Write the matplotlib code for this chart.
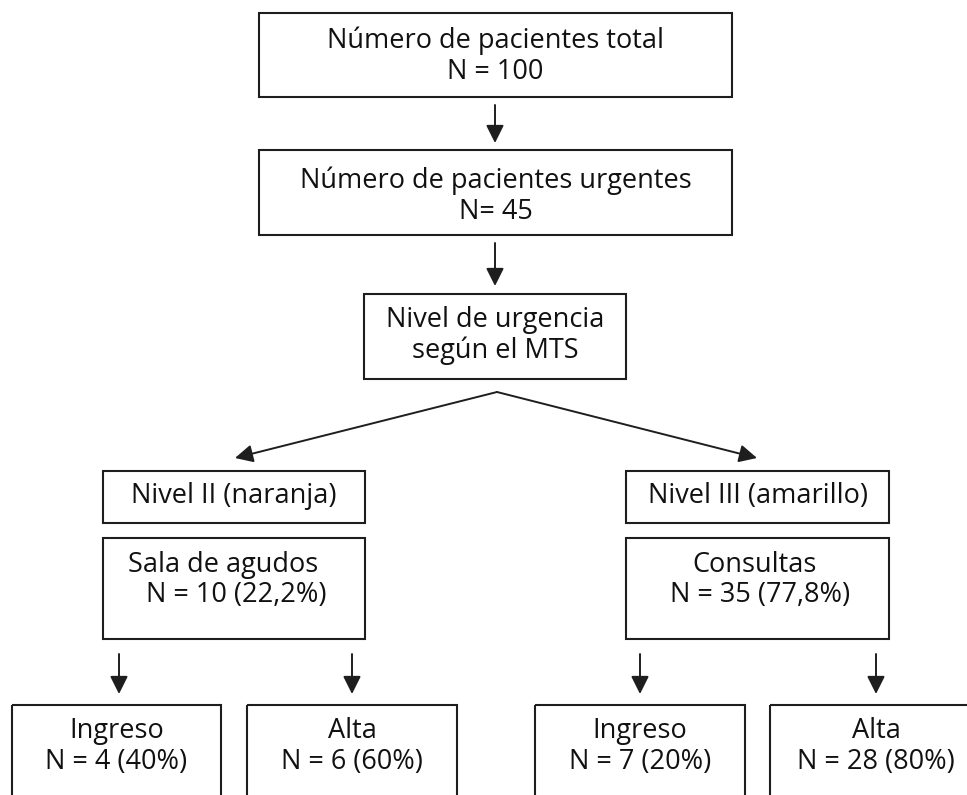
import matplotlib.pyplot as plt
from matplotlib.patches import Rectangle

# flowchart content
total_n = 100
urgent_n = 45
level_names = ["Nivel II (naranja)", "Nivel III (amarillo)"]
area_names = ["Sala de agudos", "Consultas"]
area_n = [10, 35]
area_pct = ["22,2%", "77,8%"]
outcome_names = ["Ingreso", "Alta", "Ingreso", "Alta"]
outcome_n = [4, 6, 7, 28]
outcome_pct = ["40%", "60%", "20%", "80%"]

INK = "#1e1e1e"
FONT = "Open Sans"
FS = 19.5


def box(ax, x0, y0, x1, y1, lines, ys, cxs=None):
	ax.add_patch(Rectangle((x0, y0), x1 - x0, y1 - y0, fill=False, edgecolor=INK, linewidth=1.5))
	if cxs is None:
		cxs = [(x0 + x1) / 2] * len(lines)
	for txt, y, cx in zip(lines, ys, cxs):
		ax.text(cx, y, txt, ha="center", va="center", fontsize=FS, family=FONT, color="#111111")


def arrow(ax, x0, y0, x1, y1):
	ax.annotate(
		"",
		xy=(x1, y1),
		xytext=(x0, y0),
		arrowprops=dict(arrowstyle="-|>,head_length=0.9,head_width=0.45", mutation_scale=12, color=INK, lw=1.4, shrinkA=0, shrinkB=0),
	)


fig = plt.figure(figsize=(9.67, 7.95), dpi=100)
ax = fig.add_axes([0, 0, 1, 1])
ax.set_xlim(0, 967)
ax.set_ylim(795, 0)
ax.axis("off")

box(ax, 259, 13, 732, 97, ["Número de pacientes total", f"N = {total_n}"], [41, 72])
arrow(ax, 495, 105, 495, 143)
box(ax, 259, 150, 732, 235, ["Número de pacientes urgentes", f"N= {urgent_n}"], [181, 212])
arrow(ax, 495, 243, 495, 286)
box(ax, 364, 294, 626, 379, ["Nivel de urgencia", "según el MTS"], [320, 351])

# branch to the two levels
arrow(ax, 497, 392, 235, 458)
arrow(ax, 497, 392, 757, 458)

level_boxes = [(103, 365), (626, 889)]
area_cx = [(223, 236), (755, 760)]
for (x0, x1), cx, name, area, n, pct in zip(level_boxes, area_cx, level_names, area_names, area_n, area_pct):
	box(ax, x0, 471, x1, 523, [name], [496])
	box(ax, x0, 538, x1, 639, [area, f"N = {n} ({pct})"], [565, 595], cxs=cx)

# outcomes
out_boxes = [(12, 221), (247, 457), (535, 745), (770, 990)]
arrow_x = [119, 352, 640, 876]
for (x0, x1), a_x, name, n, pct in zip(out_boxes, arrow_x, outcome_names, outcome_n, outcome_pct):
	arrow(ax, a_x, 654, a_x, 694)
	cx = (x0 + x1) / 2 if x1 < 967 else 876
	box(ax, x0, 705, x1, 830, [name, f"N = {n} ({pct})"], [731, 762], cxs=[cx, cx])

fig.savefig("out.png", dpi=100)
